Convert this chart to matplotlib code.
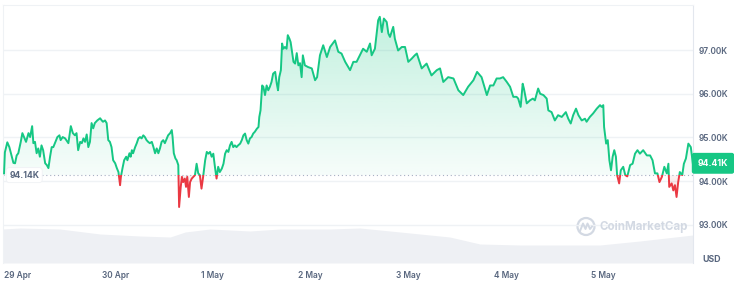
import numpy as np
import matplotlib
matplotlib.use("Agg")
import matplotlib.pyplot as plt
from matplotlib.patches import Polygon, Circle, Rectangle
from matplotlib.lines import Line2D
import matplotlib.transforms as mtransforms

plt.rcParams['font.family'] = ['Inter', 'DejaVu Sans']

# BTC price (thousand USD), hours from 29 Apr 00:00
hours = [-3.3,-3.1,-2.5,-2.0,-1.4,-1.0,-0.6,-0.2,0.2,0.8,1.2,1.6,2.1,2.7,3.1,3.6,3.9,4.3,4.7,5.1,
         5.5,5.9,6.3,6.8,7.2,7.6,8.0,8.4,8.8,9.2,9.8,10.3,10.6,11.1,11.7,12.5,13.1,13.6,14.1,14.5,
         14.9,15.4,15.8,16.2,16.6,17.0,17.4,17.8,18.2,18.6,19.0,19.6,20.3,20.7,21.0,21.5,21.9,22.3,22.7,23.1,
         23.5,24.0,24.4,24.8,25.2,25.4,25.8,26.2,26.7,27.0,27.5,27.8,28.1,28.4,28.9,29.3,29.7,30.1,30.5,30.9,
         31.3,31.7,32.1,32.5,33.0,33.4,33.8,34.2,34.6,35.0,35.4,35.8,36.2,36.7,37.0,37.5,37.9,38.1,38.4,38.8,
         39.1,39.5,39.7,40.1,40.4,40.7,41.1,41.4,41.7,42.1,42.4,42.8,43.2,43.6,44.0,44.4,44.8,45.2,45.6,46.1,
         46.5,46.9,47.3,47.7,48.1,48.5,48.9,49.3,49.7,50.2,50.6,51.0,51.4,51.8,52.2,52.6,53.0,53.4,53.8,54.2,
         54.7,55.1,55.5,55.9,56.3,56.7,57.1,57.5,57.9,58.3,58.8,59.2,59.4,59.7,60.1,60.4,60.8,61.2,61.6,62.0,
         62.4,62.8,63.3,63.7,64.0,64.3,64.7,65.0,65.3,65.7,66.1,66.4,66.8,67.1,67.4,67.8,68.2,68.6,69.0,69.4,
         69.8,70.1,70.6,71.4,72.3,73.1,73.6,74.3,75.1,76.0,76.8,78.0,78.8,79.6,80.5,81.7,82.5,83.3,84.1,84.9,
         85.8,86.6,87.0,87.8,88.6,89.0,89.5,90.0,90.7,91.1,91.5,92.3,92.7,93.5,94.4,95.2,96.0,96.8,97.6,98.1,
         99.3,100.5,101.7,103.0,103.8,104.6,105.8,107.1,108.3,109.5,110.7,112.0,112.9,114.0,115.3,116.1,116.9,117.7,118.5,119.3,
         120.2,121.0,121.8,122.6,123.0,123.6,124.1,124.4,125.1,125.9,126.6,127.1,127.9,128.4,129.2,130.0,130.4,131.2,132.0,132.8,
         133.7,134.7,135.3,135.9,136.5,137.2,137.8,138.6,139.4,139.8,140.6,141.4,142.3,143.1,143.5,143.9,144.1,144.6,145.0,145.4,
         145.8,146.2,146.6,147.0,147.3,147.8,148.2,148.8,149.3,149.8,150.5,151.1,151.7,152.3,152.9,153.7,154.6,155.4,156.0,156.6,
         157.2,157.7,158.3,158.9,159.5,159.9,160.1,160.7,161.1,161.5,161.9,162.3,162.7,163.3,163.7,164.2,164.8,165.4,165.9]

price_k = [94.18,94.66,94.89,94.78,94.56,94.42,94.41,94.59,94.64,94.90,95.10,95.01,94.90,95.10,95.01,95.26,94.87,94.90,94.64,94.75,
           94.56,94.82,94.71,94.41,94.37,94.30,94.56,94.78,94.78,94.87,95.01,95.05,94.94,95.01,94.98,94.87,95.26,95.10,95.05,95.10,
           94.71,94.90,94.87,94.98,94.90,95.07,94.78,94.90,95.33,95.21,95.33,95.39,95.44,95.39,95.36,95.39,95.33,94.94,94.90,94.78,
           94.48,94.41,94.30,94.21,93.91,94.10,94.30,94.48,94.56,94.48,94.64,94.56,94.71,94.64,94.78,94.87,94.98,95.01,94.98,95.05,
           95.01,94.94,94.90,94.87,94.90,94.78,94.64,94.75,94.64,94.75,94.90,94.94,94.87,94.98,95.05,95.10,95.17,95.01,94.64,94.52,
           94.48,94.37,93.41,93.87,94.10,93.98,94.06,93.87,94.10,93.64,93.98,94.06,94.10,94.14,94.40,94.18,94.14,93.83,94.10,94.48,
           94.67,94.63,94.67,94.56,94.63,94.33,94.06,94.33,94.21,94.29,94.40,94.63,94.71,94.67,94.82,94.90,94.78,94.82,94.78,94.82,
           94.86,94.94,95.05,95.09,94.94,94.86,94.98,95.01,95.09,95.13,95.20,95.24,95.47,95.62,96.19,96.16,95.97,96.19,96.08,96.16,
           96.27,96.46,96.50,96.23,96.08,96.38,96.54,97.15,97.03,97.07,97.03,97.34,97.26,97.18,96.99,96.73,96.69,96.93,96.65,96.70,
           96.38,96.88,96.65,96.61,96.58,96.31,96.38,96.88,97.11,96.84,97.07,97.22,96.96,96.92,96.73,96.54,96.73,96.73,96.88,97.03,
           96.96,97.15,96.88,97.03,97.68,97.76,97.41,97.72,97.64,97.38,97.30,97.53,97.26,96.99,97.07,97.07,96.73,96.80,96.88,96.92,
           96.58,96.69,96.42,96.54,96.58,96.27,96.38,96.35,96.08,95.97,96.16,96.31,96.50,96.38,95.97,96.19,96.19,96.35,96.35,96.38,
           96.27,96.16,95.93,95.93,95.89,95.70,96.23,96.12,95.78,95.85,95.89,95.85,96.12,96.00,95.97,95.89,95.62,95.58,95.39,95.51,
           95.47,95.58,95.43,95.32,95.51,95.66,95.51,95.39,95.43,95.36,95.47,95.55,95.66,95.74,95.70,95.74,95.24,94.86,94.94,94.48,
           94.25,94.56,94.71,94.56,94.14,93.95,94.25,94.33,94.14,94.11,94.37,94.40,94.63,94.71,94.63,94.71,94.59,94.59,94.48,94.18,
           94.18,93.98,94.10,94.33,94.18,94.40,93.87,93.95,93.79,93.91,93.64,93.98,94.21,94.14,94.40,94.52,94.86,94.78,94.41]

open_price = 94.14

# 24h volume (billion USD)
vol_hours = [-3.6,0.6,10.4,20.3,30.1,37.5,41.2,47.3,57.1,64.5,76.8,84.1,94.0,106.2,113.6,123.5,133.3,143.1,152.9,165.9]
vol_b = [34,35,34,29,27,26,31,34,32,34,34,35,31,26,19,18,18,18,22,28]

day_ticks = [0, 24, 48, 72, 96, 120, 144]
day_labels = ['29 Apr', '30 Apr', '1 May', '2 May', '3 May', '4 May', '5 May']
price_ticks = [93, 94, 95, 96, 97]

green = '#16c784'
red = '#ea3943'
txt = '#58667e'

W, H = 734, 281
fig = plt.figure(figsize=(W / 100, H / 100), dpi=100)
rect = [3 / W, 18 / H, 690 / W, 258 / H]
xlim = (-3.56, 165.94)

# volume behind the price
axv = fig.add_axes(rect, zorder=0)
axv.fill_between(vol_hours, vol_b, color='#eef0f4', lw=0)
axv.set_xlim(*xlim)
axv.set_ylim(0, 258)
axv.axis('off')

ax = fig.add_axes(rect, zorder=1)
ax.patch.set_alpha(0)
ax.set_xlim(*xlim)
ax.set_ylim(92.13, 98.03)

for p in price_ticks:
    ax.axhline(p, color='#eff2f5', lw=1, zorder=0)

h = np.array(hours)
pk = np.array(price_k)
verts = [(h[0], open_price)] + list(zip(h, pk)) + [(h[-1], open_price)]
clip = Polygon(verts, closed=True, transform=ax.transData, facecolor='none', edgecolor='none')

# gradient fills
g = np.zeros((256, 1, 4))
g[..., :3] = matplotlib.colors.to_rgb(green)
g[:, 0, 3] = np.linspace(0.04, 0.26, 256)
im = ax.imshow(g, extent=[xlim[0], xlim[1], open_price, pk.max()], origin='lower', aspect='auto', zorder=1)
im.set_clip_path(clip)

r = np.zeros((256, 1, 4))
r[..., :3] = matplotlib.colors.to_rgb(red)
r[:, 0, 3] = np.linspace(0.25, 0.06, 256)
im2 = ax.imshow(r, extent=[xlim[0], xlim[1], pk.min(), open_price], origin='lower', aspect='auto', zorder=1)
im2.set_clip_path(clip)

# line: green above open, red below
up = Rectangle((xlim[0], open_price), xlim[1] - xlim[0], 10, transform=ax.transData)
dn = Rectangle((xlim[0], open_price - 10), xlim[1] - xlim[0], 10, transform=ax.transData)
l1, = ax.plot(h, pk, color=green, lw=1.4, zorder=3, solid_joinstyle='round')
l1.set_clip_path(up)
l2, = ax.plot(h, pk, color=red, lw=1.4, zorder=3, solid_joinstyle='round')
l2.set_clip_path(dn)

ax.axhline(open_price, color='#a6b0c3', lw=0.8, ls=(0, (1, 2.5)), zorder=2)

ax.set_xticks(day_ticks)
ax.set_xticklabels(day_labels)
ax.set_yticks(price_ticks)
ax.set_yticklabels(['%.2fK' % p for p in price_ticks])
ax.yaxis.tick_right()
ax.tick_params(axis='both', length=0, labelsize=6, labelcolor=txt)
ax.tick_params(axis='x', pad=5.5)
ax.tick_params(axis='y', pad=4)
for lab in ax.get_xticklabels() + ax.get_yticklabels():
    lab.set_fontweight('semibold')

for s in ['left', 'top']:
    ax.spines[s].set_color('#eff2f5')
ax.spines['right'].set_color('#e3e7ee')
ax.spines['bottom'].set_visible(False)

# open price label
ax.text(0.009, open_price, '%.2fK' % open_price,
        transform=mtransforms.blended_transform_factory(ax.transAxes, ax.transData),
        fontsize=6.2, fontweight='bold', color=txt, va='center', ha='left', zorder=4,
        bbox=dict(boxstyle='round,pad=0.35', fc='white', ec='#f0f2f5', lw=0.6))

# last price badge
ax.annotate('%.2fK' % price_k[-1], xy=(1, price_k[-1]), xycoords=('axes fraction', 'data'),
            xytext=(20, 0), textcoords='offset pixels', ha='center', va='center',
            fontsize=6.3, fontweight='bold', color='white', annotation_clip=False,
            bbox=dict(boxstyle='round,pad=0.6,rounding_size=0.2', fc=green, ec=green))

fig.text(702.5 / W, 1 - 260 / H, 'USD', fontsize=6.3, fontweight='bold', color=txt, va='center', ha='left')

# watermark
wm = '#d3d9e3'
fig.add_artist(Circle((5.86, (H - 226.5) / 100), 0.085, transform=fig.dpi_scale_trans,
                      fill=False, ec=wm, lw=1.6))
fig.add_artist(Line2D([5.80, 5.83, 5.855, 5.875, 5.90, 5.92],
                      [0.50, 0.575, 0.52, 0.575, 0.52, 0.545], transform=fig.dpi_scale_trans,
                      color=wm, lw=1.4, solid_joinstyle='round'))
fig.text(600 / W, 1 - 227 / H, 'CoinMarketCap', fontsize=8.3, fontweight='bold', color=wm, va='center', ha='left')

plt.savefig('out.png', dpi=100, facecolor='white')
